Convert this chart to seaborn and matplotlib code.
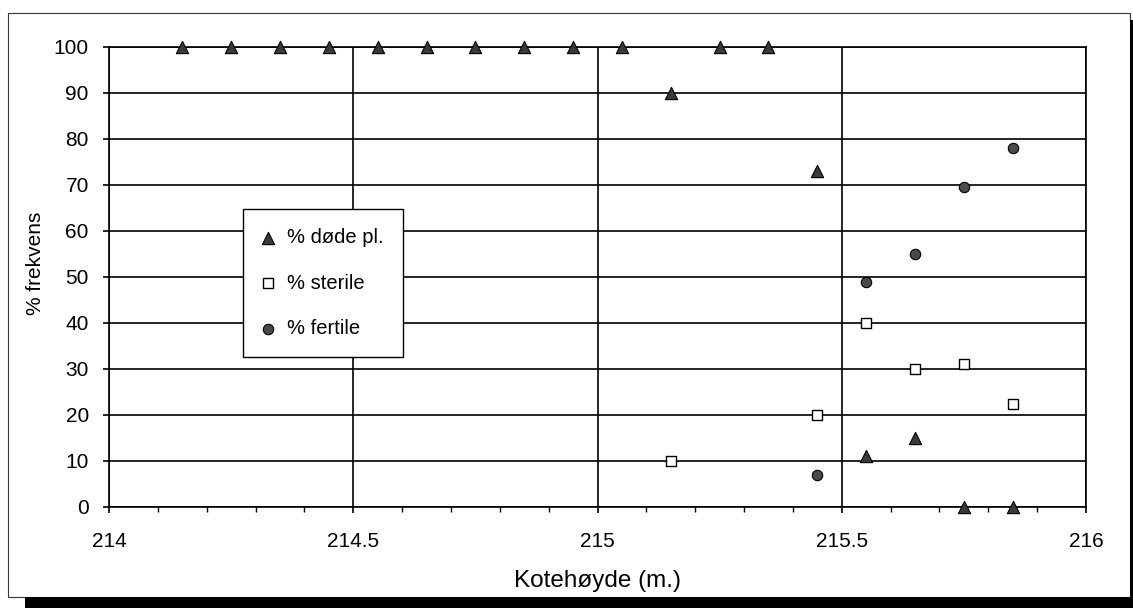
import matplotlib
matplotlib.use("Agg")
import matplotlib.pyplot as plt
from matplotlib.patches import Rectangle
from matplotlib.ticker import MultipleLocator
import pandas as pd
import seaborn as sns

# Survey data: share of dead, sterile and fertile plants by elevation
kote_dode = [214.15, 214.25, 214.35, 214.45, 214.55, 214.65, 214.75, 214.85, 214.95,
             215.05, 215.15, 215.25, 215.35, 215.45, 215.55, 215.65, 215.75, 215.85]
pct_dode = [100, 100, 100, 100, 100, 100, 100, 100, 100,
            100, 90, 100, 100, 73, 11, 15, 0, 0]

kote_steril = [215.15, 215.45, 215.55, 215.65, 215.75, 215.85]
pct_steril = [10, 20, 40, 30, 31, 22.5]

kote_fertil = [215.45, 215.55, 215.65, 215.75, 215.85]
pct_fertil = [7, 49, 55, 69.5, 78]

labels = ["% døde pl.", "% sterile", "% fertile"]
x_ticks = [214, 214.5, 215, 215.5, 216]
x_ticklabels = ["214", "214.5", "215", "215.5", "216"]
y_ticks = [0, 10, 20, 30, 40, 50, 60, 70, 80, 90, 100]

sns.set_theme(style="white")
plt.rcParams["font.family"] = ["Liberation Sans", "DejaVu Sans"]

W, H = 1133, 608
fig = plt.figure(figsize=(W / 100, H / 100), dpi=100)
fig.patch.set_facecolor("white")

# outer chart frame with drop shadow
fig.patches.append(Rectangle((8 / W, 11 / H), 1122 / W, 584 / H, transform=fig.transFigure,
                             fill=False, edgecolor="#333333", linewidth=0.8, zorder=0))
fig.patches.append(Rectangle((25 / W, 0), 1 - 25 / W, 11 / H, transform=fig.transFigure,
                             facecolor="black", edgecolor="none", zorder=0))
fig.patches.append(Rectangle((1130 / W, 0), 3 / W, 1 - 20 / H, transform=fig.transFigure,
                             facecolor="black", edgecolor="none", zorder=0))

ax = fig.add_axes([109 / W, (H - 507) / H, 977 / W, 460 / H])

df_dode = pd.DataFrame({"kote": kote_dode, "pct": pct_dode})
df_steril = pd.DataFrame({"kote": kote_steril, "pct": pct_steril})
df_fertil = pd.DataFrame({"kote": kote_fertil, "pct": pct_fertil})

sns.scatterplot(data=df_dode, x="kote", y="pct", ax=ax, marker="^", s=78,
                color="#3a3a3a", edgecolor="black", linewidth=0.8, label=labels[0],
                zorder=5, clip_on=False)
sns.scatterplot(data=df_steril, x="kote", y="pct", ax=ax, marker="s", s=62,
                color="white", edgecolor="black", linewidth=1.0, label=labels[1],
                zorder=5, clip_on=False)
sns.scatterplot(data=df_fertil, x="kote", y="pct", ax=ax, marker="o", s=56,
                color="#4a4a4a", edgecolor="black", linewidth=0.8, label=labels[2],
                zorder=5, clip_on=False)

ax.set_xlim(214, 216)
ax.set_ylim(0, 100)
ax.set_xticks(x_ticks)
ax.set_xticklabels(x_ticklabels)
ax.set_yticks(y_ticks)
ax.xaxis.set_minor_locator(MultipleLocator(0.1))

ax.grid(True, which="major", color="black", linewidth=1.2)
ax.set_axisbelow(True)
for sp in ax.spines.values():
    sp.set_visible(True)
    sp.set_color("black")
    sp.set_linewidth(1.2)

ax.tick_params(axis="both", which="major", direction="out", length=4.5, width=1.2,
               color="black", labelsize=15, labelcolor="black")
ax.tick_params(axis="x", which="major", pad=13.5)
ax.tick_params(axis="y", which="major", pad=10)
ax.tick_params(axis="x", which="minor", direction="out", length=3.5, width=1.0,
               color="black", bottom=True)
ax.tick_params(bottom=True, left=True)

ax.set_xlabel("Kotehøyde (m.)", fontsize=17.5, color="black")
ax.set_ylabel("% frekvens", fontsize=15, color="black")
ax.xaxis.set_label_coords(0.5, -0.136)
ax.yaxis.set_label_coords(-0.066, 0.53)

leg = ax.legend(loc="upper left", bbox_to_anchor=(0.137, 0.648), frameon=True,
                fancybox=False, shadow=False, fontsize=14.5, borderpad=0.97,
                labelspacing=1.3, handlelength=0.55, handletextpad=0.67,
                borderaxespad=0, framealpha=1)
leg.get_frame().set_edgecolor("black")
leg.get_frame().set_linewidth(1.0)
for t in leg.get_texts():
    t.set_color("black")

fig.savefig("out.png", dpi=100)
